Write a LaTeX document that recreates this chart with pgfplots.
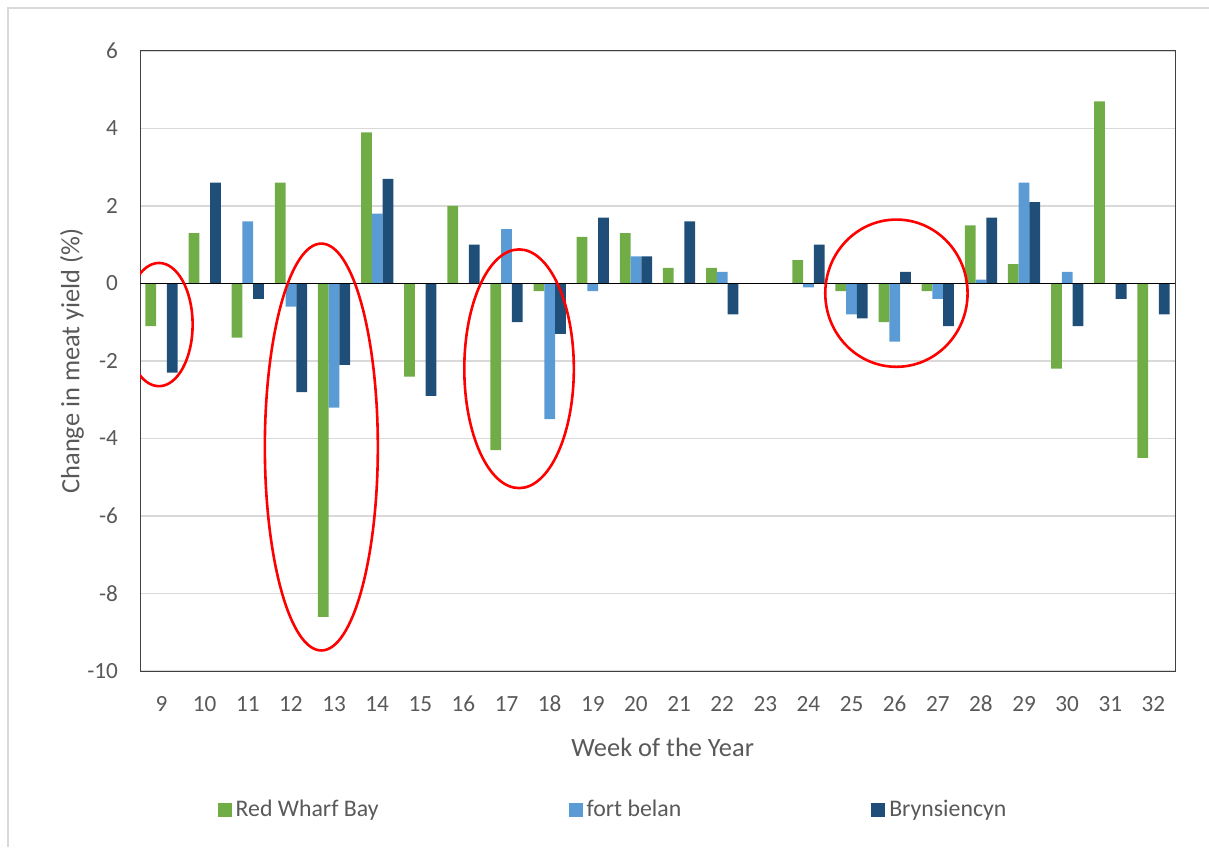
\documentclass[border=0pt]{standalone}
\usepackage{fontspec}
\setmainfont{Carlito}
\usepackage{pgfplots}
\pgfplotsset{compat=1.18}
\definecolor{rwb}{HTML}{70AD47}
\definecolor{fbl}{HTML}{5B9BD5}
\definecolor{bry}{HTML}{1F4E79}
\definecolor{txt}{HTML}{595959}
\definecolor{gridc}{HTML}{D9D9D9}

\pgfplotstableread{
week rwb fbl bry
9  -1.1  0    -2.3
10  1.3  0     2.6
11 -1.4  1.6  -0.4
12  2.6 -0.6  -2.8
13 -8.6 -3.2  -2.1
14  3.9  1.8   2.7
15 -2.4  0    -2.9
16  2.0  0     1.0
17 -4.3  1.4  -1.0
18 -0.2 -3.5  -1.3
19  1.2 -0.2   1.7
20  1.3  0.7   0.7
21  0.4  0     1.6
22  0.4  0.3  -0.8
23  0    0     0
24  0.6 -0.1   1.0
25 -0.2 -0.8  -0.9
26 -1.0 -1.5   0.3
27 -0.2 -0.4  -1.1
28  1.5  0.1   1.7
29  0.5  2.6   2.1
30 -2.2  0.3  -1.1
31  4.7  0    -0.4
32 -4.5  0    -0.8
}\yielddata

\begin{document}
\begin{tikzpicture}
\path[use as bounding box] (0,0) rectangle (604.5pt,423.5pt);
\draw[gridc, line width=0.6pt] (4pt,0) -- (4pt,419.5pt) -- (604.5pt,419.5pt);
\begin{axis}[
  at={(70pt,88pt)}, anchor=south west,
  scale only axis, width=517.5pt, height=310pt,
  ybar=0pt, bar width=0.25,
  xmin=8.5, xmax=32.5, ymin=-10, ymax=6,
  xtick={9,...,32}, ytick={-10,-8,...,6},
  major tick length=0pt,
  ymajorgrids, grid style={gridc, line width=0.6pt},
  axis line style={black!75, line width=0.5pt},
  font=\fontsize{11.6}{13}\selectfont, text=txt,
  /pgf/number format/assume math mode=true,
  xticklabel style={yshift=-9pt},
  yticklabel style={xshift=-7.5pt},
  xlabel={Week of the Year},
  ylabel={Change in meat yield (\%)},
  xlabel style={font=\fontsize{13.2}{15}\selectfont, at={(axis description cs:0.505,-0.124)}, anchor=center},
  ylabel style={font=\fontsize{13.2}{15}\selectfont, at={(axis description cs:-0.0657,0.5)}, anchor=center},
  legend columns=3,
  legend style={at={(axis description cs:0.458,-0.224)}, anchor=center, draw=none,
    font=\fontsize{11.9}{14}\selectfont, text=txt,
    /tikz/every even column/.append style={column sep=93pt}},
  legend image code/.code={\fill[#1,draw=none] (0pt,-3.5pt) rectangle (7pt,3.5pt);},
]
\addplot[fill=rwb, draw=none] table[x=week, y=rwb] {\yielddata};
\addlegendentry{Red Wharf Bay}
\addplot[fill=fbl, draw=none] table[x=week, y=fbl] {\yielddata};
\addlegendentry{fort belan}
\addplot[fill=bry, draw=none] table[x=week, y=bry] {\yielddata};
\addlegendentry{Brynsiencyn}
\draw[black, line width=0.8pt] (axis cs:8.5,0) -- (axis cs:32.5,0);
% red ellipses marking weeks of interest
\draw[red, line width=1.3pt] (axis cs:8.94,-1.06) ellipse [x radius=0.78, y radius=1.59];
\draw[red, line width=1.3pt] (axis cs:12.705,-4.22) ellipse [x radius=1.31, y radius=5.25];
\draw[red, line width=1.3pt] (axis cs:17.29,-2.2) ellipse [x radius=1.27, y radius=3.08];
\draw[red, line width=1.3pt] (axis cs:26.04,-0.25) ellipse [x radius=1.65, y radius=1.9];
\end{axis}
\end{tikzpicture}
\end{document}
